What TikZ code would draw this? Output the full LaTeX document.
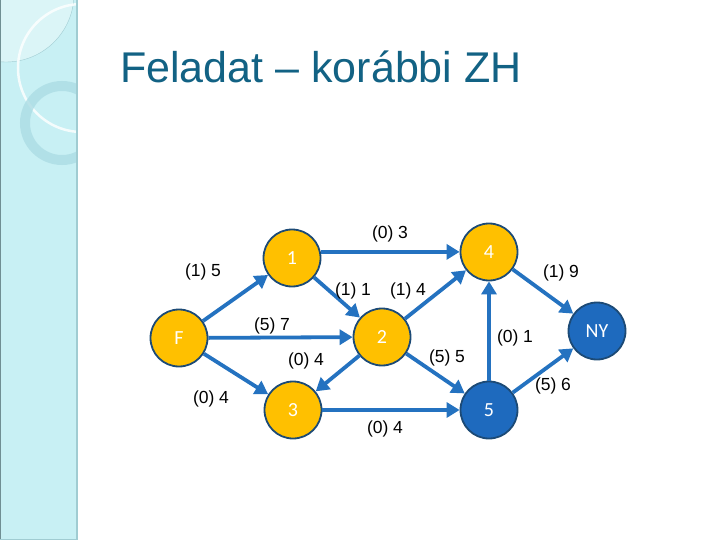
\documentclass[tikz,border=0pt]{standalone}
\usepackage{fontspec}
\setmainfont{Liberation Sans}
\newfontfamily\nodefont{Carlito}
\usepackage{xcolor}
\usetikzlibrary{
  arrows.meta,
  positioning,
  calc
}
\definecolor{slideteal}{RGB}{18,98,132}
\definecolor{stripcyan}{RGB}{200,240,244}
\definecolor{stripedge}{RGB}{160,204,210}
\definecolor{ringcyan}{RGB}{172,220,228}
\definecolor{edgeblue}{RGB}{36,114,192}
\definecolor{nodeorange}{RGB}{255,192,0}
\definecolor{nodeblue}{RGB}{30,106,190}
\definecolor{nodeborder}{RGB}{28,74,118}

\tikzset{
  vertex/.style={circle, draw=nodeborder, line width=1.8pt, fill=nodeorange,
    minimum size=57pt, inner sep=0pt, text=white, font=\nodefont\fontsize{20}{20}\selectfont},
  endvertex/.style={vertex, fill=nodeblue},
  arc/.style={edgeblue, line width=3.8pt,
    -{Triangle[length=13pt,width=15pt]}},
  weight/.style={font=\fontsize{17.5}{17.5}\selectfont, inner sep=1pt}
}

\begin{document}
\begin{tikzpicture}[x=1pt, y=-1pt]
  \useasboundingbox (0,0) rectangle (720,540);
  \fill[white] (0,0) rectangle (720,540);

  % Left strip with rings
  \fill[stripcyan] (0,0) rectangle (78,540);
  \begin{scope}
    \clip (0,0) rectangle (77,540);
    \fill[white, opacity=0.35] (6,-6) circle (68);
    \draw[stripedge, thin] (6,-6) circle (68);
    \draw[white, opacity=0.8, line width=2.5pt] (82,68) circle (64);
    \draw[ringcyan, opacity=0.8, line width=10pt] (62,123) circle (37);
  \end{scope}
  \draw[stripedge, line width=2pt] (77,0) -- (77,540);
  \draw[stripedge!70!black, line width=1pt] (0.5,0) -- (0.5,540);
  \draw[stripedge, line width=1pt] (0,539.5) -- (78,539.5);

  % Title
  \node[anchor=base west, text=slideteal, font=\fontsize{43}{43}\selectfont, inner sep=0pt]
    (title) at (120,83) {Feladat -- korábbi ZH};

  % Vertices
  \node[vertex]    (F)  at (179,338) {F};
  \node[vertex]    (v1) at (292,258) {1};
  \node[vertex]    (v2) at (382,337) {2};
  \node[vertex]    (v3) at (293,410) {3};
  \node[vertex]    (v4) at (489,252) {4};
  \node[endvertex] (v5) at (489,410) {5};
  \node[endvertex] (NY) at (597,331) {NY};

  % Arcs
  \draw[arc] (F)  -- (v1);
  \draw[arc] (F)  -- (v2);
  \draw[arc] (F)  -- (v3);
  \draw[arc] (v1.12) -- (v1.12 -| v4.west);
  \draw[arc] (v1) -- (v2);
  \draw[arc] (v2) -- (v4);
  \draw[arc] (v2) -- (v3);
  \draw[arc] (v2) -- (v5);
  \draw[arc] (v3) -- (v5);
  \draw[arc] (v5) -- (v4);
  \draw[arc] (v4) -- (NY);
  \draw[arc] (v5) -- (NY);

  % Weights
  \node[weight] (w13)  at (390,234) {(0) 3};
  \node[weight] (wF1)  at (203,272) {(1) 5};
  \node[weight] (w12)  at (353,291) {(1) 1};
  \node[weight] (w24)  at (408,291) {(1) 4};
  \node[weight] (wF2)  at (272,326) {(5) 7};
  \node[weight] (w23)  at (306,361) {(0) 4};
  \node[weight] (wF3)  at (211,399) {(0) 4};
  \node[weight] (w35)  at (385,429) {(0) 4};
  \node[weight] (w25)  at (447,358) {(5) 5};
  \node[weight] (w54)  at (515,338) {(0) 1};
  \node[weight] (w4NY) at (561,273) {(1) 9};
  \node[weight] (w5NY) at (553,386) {(5) 6};
\end{tikzpicture}
\end{document}
